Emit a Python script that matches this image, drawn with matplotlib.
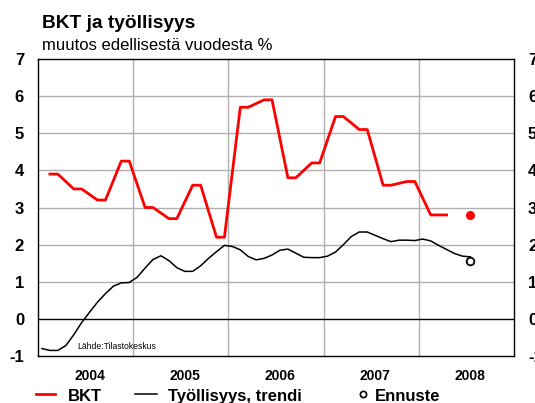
import matplotlib
matplotlib.use("Agg")
import matplotlib.pyplot as plt
from matplotlib.lines import Line2D
import numpy as np

plt.rcParams["font.family"] = ["Liberation Sans", "DejaVu Sans"]

# quarterly GDP change (%) 2004Q1 .. 2008Q1
bkt_quarters = ["2004Q1", "2004Q2", "2004Q3", "2004Q4",
                "2005Q1", "2005Q2", "2005Q3", "2005Q4",
                "2006Q1", "2006Q2", "2006Q3", "2006Q4",
                "2007Q1", "2007Q2", "2007Q3", "2007Q4",
                "2008Q1"]
bkt_values = [3.9, 3.5, 3.2, 4.25,
              3.0, 2.7, 3.6, 2.2,
              5.7, 5.9, 3.8, 4.2,
              5.45, 5.1, 3.6, 3.7,
              2.8]

# employment trend, monthly from Jan 2004
tyo_trend = [-0.80, -0.85, -0.85, -0.72, -0.43, -0.10, 0.18, 0.45, 0.68, 0.88, 0.97, 0.98,
             1.12, 1.37, 1.60, 1.70, 1.57, 1.38, 1.28, 1.28, 1.43, 1.63, 1.81, 1.98,
             1.95, 1.86, 1.68, 1.59, 1.63, 1.72, 1.85, 1.88, 1.77, 1.66, 1.65, 1.65,
             1.69, 1.80, 2.00, 2.22, 2.34, 2.34, 2.25, 2.16, 2.08, 2.12, 2.12, 2.11,
             2.15, 2.10, 1.98, 1.87, 1.76, 1.69, 1.67]

# 2008 forecasts
ennuste_bkt = 2.8
ennuste_tyo = 1.55

years = [2004, 2005, 2006, 2007, 2008]
yticks = [-1, 0, 1, 2, 3, 4, 5, 6, 7]

# quarterly value shown on the 2nd and 3rd month of each quarter
bkt_x = []
bkt_y = []
for i, v in enumerate(bkt_values):
    months = [3 * i + 1, 3 * i + 2]
    if i == len(bkt_values) - 1:
        months.append(3 * i + 3)
    for m in months:
        bkt_x.append(m + 0.5)
        bkt_y.append(v)

tyo_x = np.arange(len(tyo_trend)) + 0.5
year_x = [(y - 2004) * 12 + 6.5 for y in years]
forecast_x = (2008 - 2004) * 12 + 6.5

fig = plt.figure(figsize=(5.35, 4.03), dpi=100)
ax = fig.add_axes([38 / 535, 47 / 403, 476 / 535, 297 / 403])

ax.set_xlim(0, 60)
ax.set_ylim(-1, 7)
for gx in [12, 24, 36, 48]:
    ax.axvline(gx, color="#b0b0b0", lw=1.0, zorder=1)
for gy in [1, 2, 3, 4, 5, 6]:
    ax.axhline(gy, color="#b0b0b0", lw=1.0, zorder=1)
ax.axhline(0, color="black", lw=1.0, zorder=2)

ax.plot(bkt_x, bkt_y, color="#ff0000", lw=2.0, zorder=3)
ax.plot(tyo_x, tyo_trend, color="black", lw=1.1, zorder=3)
ax.plot([forecast_x], [ennuste_bkt], "o", color="#ff0000", ms=5.5, zorder=4)
ax.plot([forecast_x], [ennuste_tyo], "o", mfc="white", mec="black", mew=1.3, ms=5.5, zorder=4)

ax.set_xticks(year_x)
ax.set_xticklabels([str(y) for y in years], fontsize=10, fontweight="bold")
ax.set_yticks(yticks)
ax.set_yticklabels([str(t) for t in yticks], fontsize=12, fontweight="bold")
ax.tick_params(axis="y", length=0, pad=10, labelright=True)
ax.tick_params(axis="x", length=0, pad=9)
for spine in ax.spines.values():
    spine.set_color("black")
    spine.set_linewidth(1.0)

ax.text(5.0, -0.75, "Lähde:Tilastokeskus", fontsize=6.2, ha="left", va="center")

fig.text(42 / 535, 1 - 28 / 403, "BKT ja työllisyys", fontsize=13.8, fontweight="bold",
         ha="left", va="baseline")
fig.text(42 / 535, 1 - 50.5 / 403, "muutos edellisestä vuodesta %", fontsize=12,
         ha="left", va="baseline")

# legend along the bottom
leg_y = 1 - 394 / 403
base_y = 1 - 401 / 403
fig.add_artist(Line2D([36 / 535, 55 / 535], [leg_y, leg_y], color="#ff0000", lw=2.0))
fig.text(68 / 535, base_y, "BKT", fontsize=12, fontweight="bold", va="baseline")
fig.add_artist(Line2D([135 / 535, 157 / 535], [leg_y, leg_y], color="black", lw=1.1))
fig.text(168 / 535, base_y, "Työllisyys, trendi", fontsize=12, fontweight="bold", va="baseline")
fig.add_artist(Line2D([363 / 535], [leg_y], marker="o", mfc="white", mec="black", mew=1.2, ms=4.5))
fig.text(375 / 535, base_y, "Ennuste", fontsize=12, fontweight="bold", va="baseline")

fig.savefig("out.png", dpi=100)
